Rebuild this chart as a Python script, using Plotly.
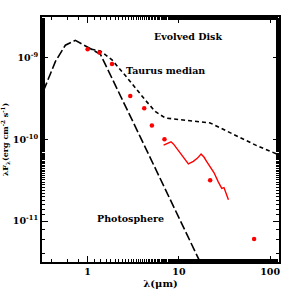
import numpy as np
import plotly.graph_objects as go

# Photosphere model (wavelength um, log10 lambda*F_lambda)
phot_wl = [0.32, 0.336, 0.443, 0.57, 0.733, 1.38, 3.77, 9.1, 16.5, 20.0]
phot_logf = [-9.40, -9.38, -9.05, -8.85, -8.79, -8.96, -9.97, -10.86, -11.46, -11.66]

# Taurus median SED
taur_wl = [1.1, 1.38, 1.85, 2.59, 4.28, 5.5, 7.1, 22.0, 45.0, 72.0, 125.0]
taur_logf = [-8.90, -8.92, -9.03, -9.22, -9.52, -9.66, -9.74, -9.80, -9.97, -10.08, -10.19]

# Photometry points of the evolved disk
pt_wl = [1.0, 1.35, 1.85, 2.93, 4.17, 5.06, 6.95, 22.0, 66.7]
pt_logf = [-8.90, -8.94, -9.08, -9.47, -9.62, -9.83, -10.00, -10.50, -11.22]

# IRS spectrum
spec_wl = [6.8, 7.4, 8.2, 8.75, 9.6, 10.8, 11.7, 12.7, 14.4, 16.0, 17.5, 18.9,
           20.1, 22.0, 24.3, 27.0, 29.5, 31.2, 33.3, 34.9]
spec_logf = [-10.07, -10.05, -10.03, -10.06, -10.12, -10.21, -10.26, -10.30, -10.27,
             -10.23, -10.18, -10.22, -10.27, -10.33, -10.41, -10.52, -10.60, -10.59,
             -10.68, -10.74]

x_ticks = [1, 10, 100]
x_ticktext = ["1", "10", "100"]
y_ticks = [1e-11, 1e-10, 1e-9]
y_ticktext = ["10<sup>-11</sup>", "10<sup>-10</sup>", "10<sup>-9</sup>"]

def tolin(v):
    return [10 ** a for a in v]

FONT = "DejaVu Serif"

fig = go.Figure()
fig.add_trace(go.Scatter(x=phot_wl, y=tolin(phot_logf), mode="lines",
                         line=dict(color="black", width=1.6, dash="9px,3px"),
                         showlegend=False))
fig.add_trace(go.Scatter(x=taur_wl, y=tolin(taur_logf), mode="lines",
                         line=dict(color="black", width=1.6, dash="4px,3px"),
                         showlegend=False))
fig.add_trace(go.Scatter(x=spec_wl, y=tolin(spec_logf), mode="lines",
                         line=dict(color="red", width=1.4),
                         showlegend=False))
fig.add_trace(go.Scatter(x=pt_wl, y=tolin(pt_logf), mode="markers",
                         marker=dict(color="red", size=4.5),
                         showlegend=False))

ann_font = dict(family=FONT, size=9.5, color="black", weight="bold")
fig.add_annotation(x=np.log10(12.5), y=-8.74, text="Evolved Disk",
                   showarrow=False, font=ann_font, xref="x", yref="y")
fig.add_annotation(x=np.log10(7.1), y=-9.16, text="Taurus median",
                   showarrow=False, font=ann_font, xref="x", yref="y")
fig.add_annotation(x=np.log10(2.95), y=-10.97, text="Photosphere",
                   showarrow=False, font=ann_font, xref="x", yref="y")

axis_common = dict(
    showgrid=False, zeroline=False, showline=True, linecolor="black", linewidth=2,
    mirror="ticks", ticks="inside", ticklen=6, tickwidth=1.2, tickcolor="black",
    tickfont=dict(family=FONT, size=9.5, color="black", weight="bold"),
    minor=dict(ticks="inside", ticklen=3, tickwidth=1, tickcolor="black", showgrid=False),
)

fig.update_xaxes(type="log", range=[-0.5, 2.097], tickvals=x_ticks, ticktext=x_ticktext,
                 title=dict(text="λ(μm)", font=dict(family=FONT, size=10, color="black",
                                                     weight="bold"),
                            standoff=4),
                 **axis_common)
fig.update_yaxes(type="log", range=[-11.5, -8.505], tickvals=y_ticks, ticktext=y_ticktext,
                 title=dict(text="λF<sub>λ</sub>(erg cm<sup>-2</sup> s<sup>-1</sup>)",
                            font=dict(family=FONT, size=8, color="black", weight="bold"),
                            standoff=4),
                 **axis_common)

fig.update_layout(width=294, height=294, margin=dict(l=42, r=15, t=17, b=32),
                  paper_bgcolor="white", plot_bgcolor="white")
fig.update_xaxes(automargin=False)
fig.update_yaxes(automargin=False)

fig.write_html("out.html", config={"displayModeBar": False},
               post_script="document.body.style.margin='0';")
